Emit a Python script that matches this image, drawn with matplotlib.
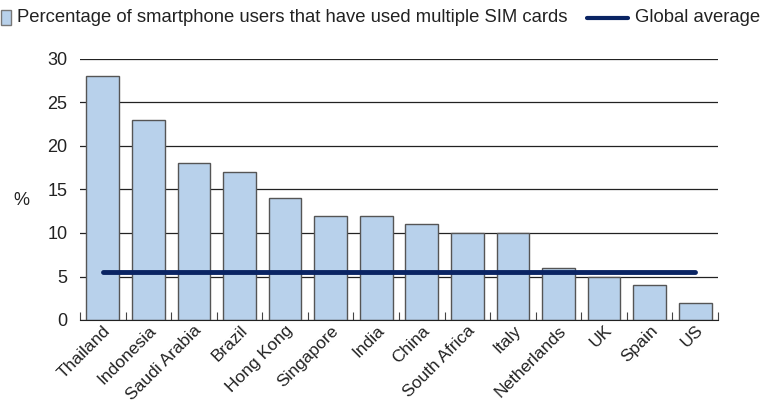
import matplotlib.pyplot as plt
import numpy as np
from matplotlib.patches import Rectangle
from matplotlib.lines import Line2D

plt.rcParams['font.family'] = ['Liberation Sans', 'DejaVu Sans']

countries = ['Thailand', 'Indonesia', 'Saudi Arabia', 'Brazil', 'Hong Kong',
             'Singapore', 'India', 'China', 'South Africa', 'Italy',
             'Netherlands', 'UK', 'Spain', 'US']
share = [28, 23, 18, 17, 14, 12, 12, 11, 10, 10, 6, 5, 4, 2]
global_avg = 5.5

bar_col = '#B8D1EB'
line_col = '#0A2463'
txt_col = '#222222'
W, H = 771, 407

fig = plt.figure(figsize=(7.71, 4.07), dpi=100)
ax = fig.add_axes([80/W, 1-320/H, 638/W, 261/H])

x = np.arange(len(countries))
ax.bar(x, share, width=0.72, color=bar_col, edgecolor='#555555', linewidth=1.0, zorder=2)
ax.plot([x[0], x[-1]], [global_avg, global_avg], color=line_col, linewidth=3.5,
        solid_capstyle='round', zorder=3)

ax.set_xlim(-0.5, len(countries) - 0.5)
ax.set_ylim(0, 30)
ax.set_yticks(range(0, 31, 5))
ax.yaxis.grid(True, color='#222222', linewidth=0.9, zorder=0)
ax.set_axisbelow(True)

for s in ['top', 'right', 'left']:
    ax.spines[s].set_visible(False)
ax.spines['bottom'].set_color('#222222')

ax.tick_params(axis='y', length=0, labelsize=13, pad=9, colors=txt_col)
ax.set_xticks(np.arange(-0.5, len(countries), 1.0))
ax.set_xticklabels([])
ax.tick_params(axis='x', direction='in', length=6, color='#444444')
ax.set_xticks(x, minor=True)
ax.set_xticklabels(countries, minor=True, rotation=45, ha='right',
                   rotation_mode='anchor', fontsize=12.5, color=txt_col)
ax.tick_params(axis='x', which='minor', length=0, pad=2)

fig.text(13/W, 1-200/H, '%', fontsize=13, ha='left', va='center', color=txt_col)

# legend, drawn by hand so the two keys can differ in length
fig.patches.append(Rectangle((0.5/W, 1-25/H), 10/W, 15/H, transform=fig.transFigure,
                             facecolor=bar_col, edgecolor='#777777', linewidth=1))
fig.text(17/W, 1-18/H, 'Percentage of smartphone users that have used multiple SIM cards',
         fontsize=13.3, ha='left', va='center', color=txt_col)
fig.lines.append(Line2D([587/W, 628/W], [1-18/H, 1-18/H], transform=fig.transFigure,
                        color=line_col, linewidth=3, solid_capstyle='round'))
fig.text(635/W, 1-18/H, 'Global average', fontsize=13.3, ha='left', va='center', color=txt_col)

fig.savefig('out.png', dpi=100)
